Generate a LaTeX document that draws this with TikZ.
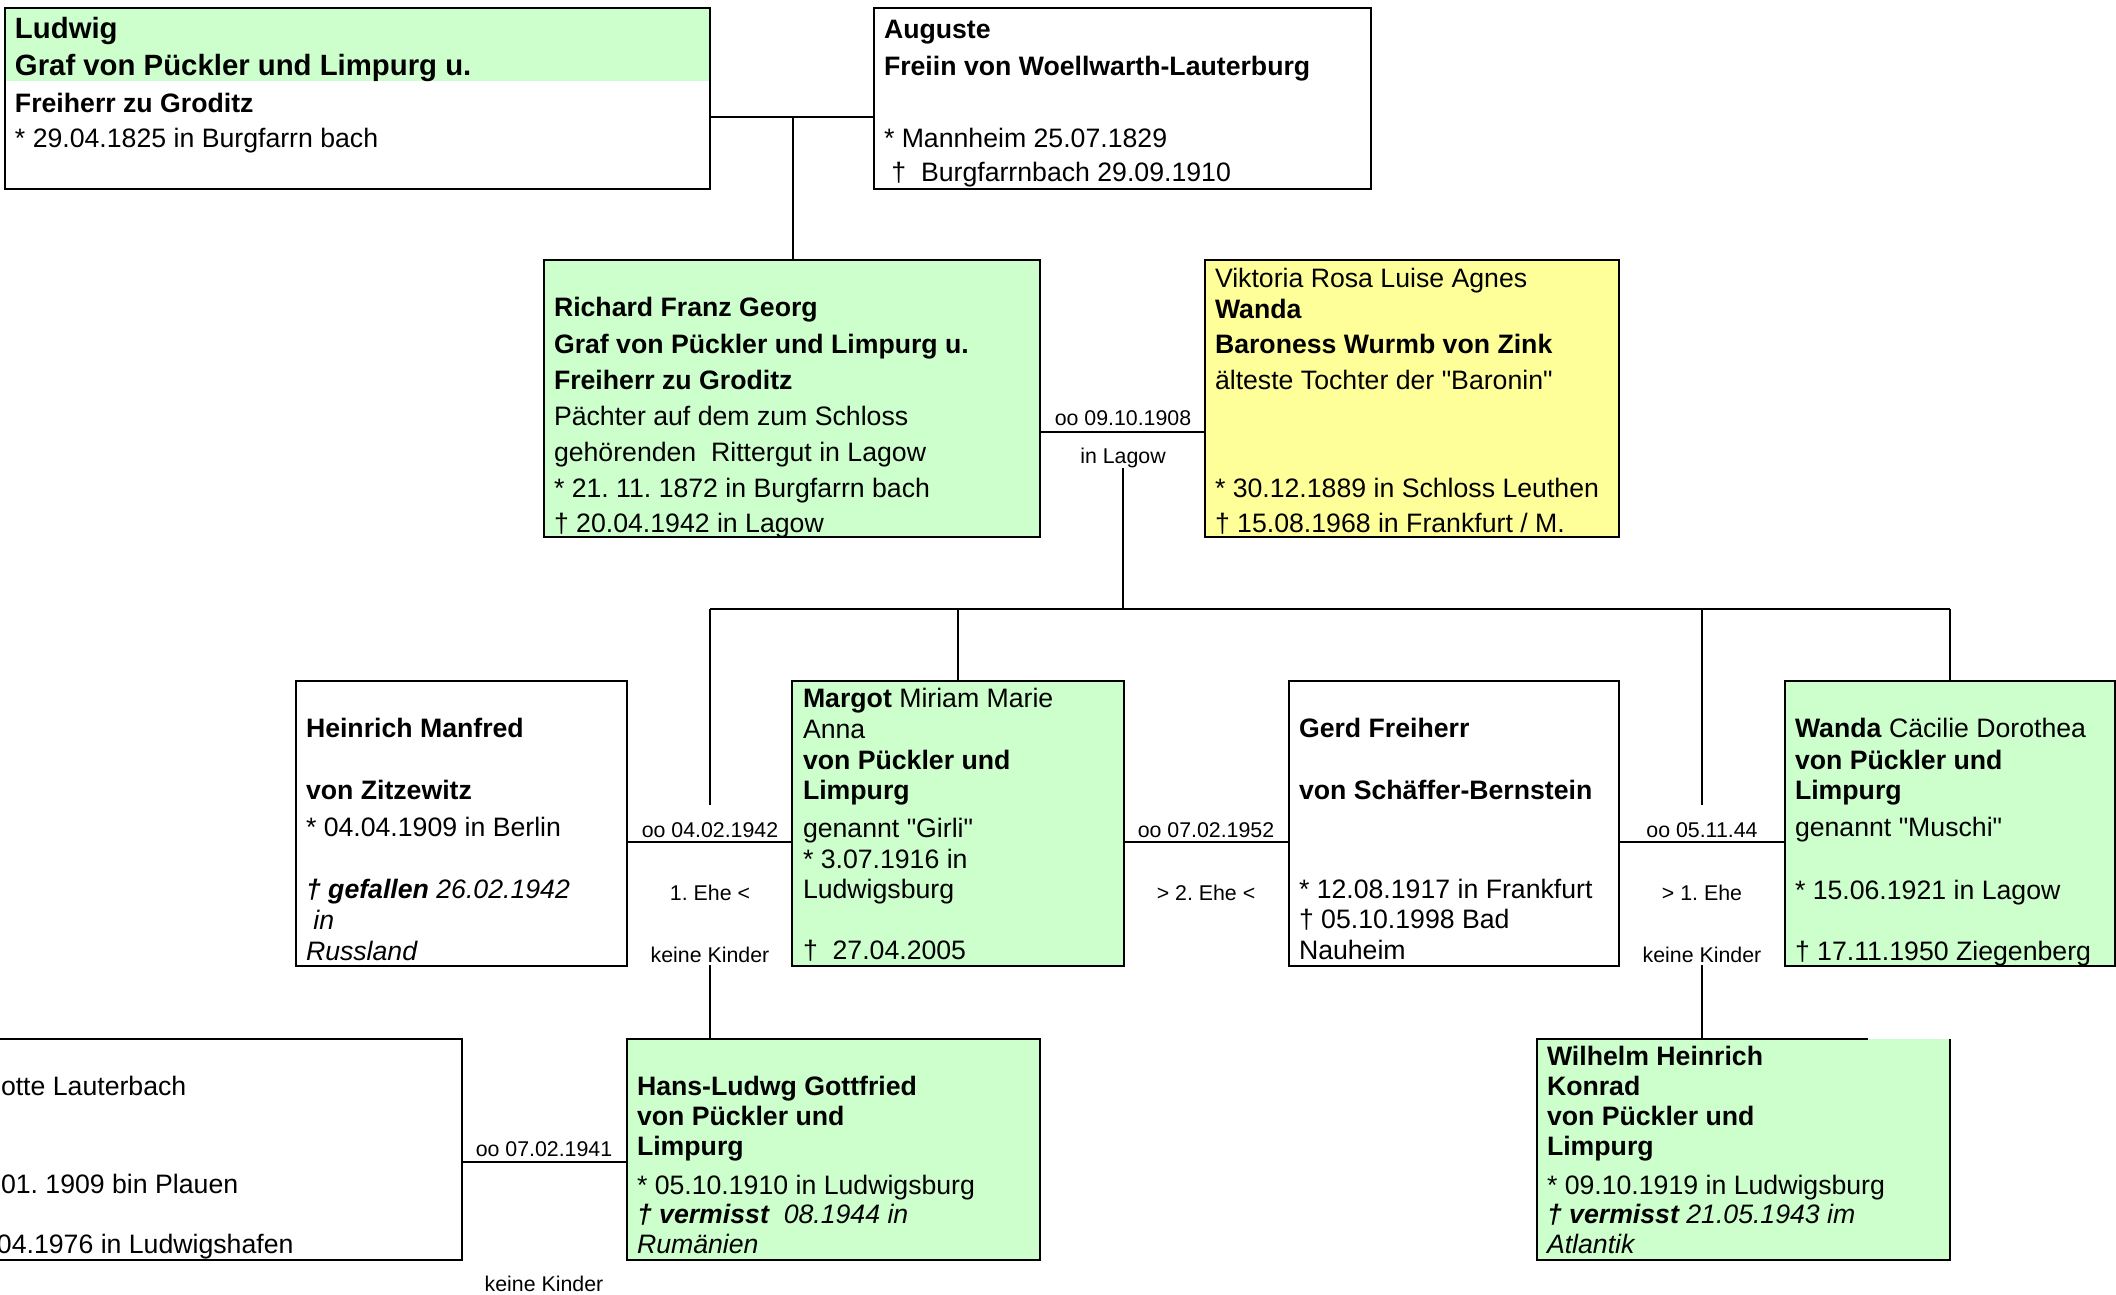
\documentclass[tikz,border=0pt]{standalone}
\usepackage{fontspec}
\setmainfont{Liberation Sans}[Ligatures=TeXOff]
\frenchspacing
\definecolor{pgreen}{HTML}{CCFFCC}
\definecolor{pyellow}{HTML}{FFFF99}
\tikzset{
  box/.style={draw=black, line width=0.75pt, anchor=north west, inner sep=0pt, outer sep=0pt},
  boxline/.style={draw=black, line width=0.75pt},
  tx/.style={anchor=mid west, inner sep=0pt, outer sep=0pt, font=\fontsize{10pt}{12pt}\selectfont\frenchspacing},
  txl/.style={tx, font=\fontsize{11pt}{13pt}\selectfont\frenchspacing},
  lbl/.style={anchor=mid, inner sep=0pt, font=\fontsize{8pt}{9.6pt}\selectfont\frenchspacing},
  con/.style={line width=0.7pt},
}
\newcommand\pbox[7][]{%
  \node[box, #1, fill=#7, minimum width={(#4-#2)*0.375pt}, minimum height={(#5-#3)*0.375pt}] (#6) at (#2,#3) {};}
\newcommand\tline[5][]{\node[tx,#1] (#2) at (#3,{#4+3}) {#5};}
\begin{document}
\begin{tikzpicture}[x=0.375pt, y=-0.375pt]
\path[use as bounding box, clip] (0,0) rectangle (2116,1294);
\fill[white] (0,0) rectangle (2116,1294);

% ---------- boxes ----------
\fill[pgreen] (5,8) rectangle (710,81);
\pbox{5}{8}{710}{189}{ludwig}{none}
\pbox{874}{8}{1371}{189}{auguste}{white}
\pbox{544}{260}{1040}{537}{richard}{pgreen}
\pbox{1205}{260}{1619}{537}{viktoria}{pyellow}
\pbox{296}{681}{627}{966}{heinrich}{white}
\pbox{792}{681}{1124}{966}{margot}{pgreen}
\pbox{1289}{681}{1619}{966}{gerd}{white}
\pbox{1785}{681}{2115}{966}{wanda}{pgreen}
\pbox{-20}{1039}{462}{1260}{lotte}{white}
\pbox{627}{1039}{1040}{1260}{hans}{pgreen}
\node[anchor=north west, inner sep=0pt, outer sep=0pt, fill=pgreen,
  minimum width={413*0.375pt}, minimum height={221*0.375pt}] (wilhelm) at (1537,1039) {};
\coordinate (wtop) at (1868,1039);
\draw[boxline] (wtop) -- (wilhelm.north west) -- (wilhelm.south west) -- (wilhelm.south east) -- (wilhelm.north east);

% ---------- connectors ----------
\coordinate (j0) at (793,117);
\draw[con] (ludwig.east |- j0) -- (auguste.west |- j0);
\draw[con] (j0) -- (richard.north -| j0);

\coordinate (m0) at (1123,432);
\draw[con] (richard.east |- m0) -- (viktoria.west |- m0);
\node[lbl] (m0a) at (1123,418) {oo 09.10.1908};
\node[lbl] (m0b) at (1123,456) {in Lagow};
\coordinate (m0c) at (1123,468);
\coordinate (bar) at (1123,609);
\draw[con] (m0c) -- (bar);

\coordinate (c1) at (710,609);
\coordinate (c1a) at (710,805);
\coordinate (c1b) at (710,965);
\coordinate (c2) at (958,609);
\coordinate (c3) at (1702,609);
\coordinate (c3a) at (1702,805);
\coordinate (c3b) at (1702,965);
\coordinate (c4) at (1950,609);
\draw[con] (c1) -- (c4);
\draw[con] (c1) -- (c1a);
\draw[con] (c1b) -- (c1b |- hans.north);
\draw[con] (c2) -- (c2 |- margot.north);
\draw[con] (c3) -- (c3a);
\draw[con] (c3b) -- (c3b |- wilhelm.north);
\draw[con] (c4) -- (c4 |- wanda.north);

\coordinate (mr) at (0,842);
\draw[con] (heinrich.east |- mr) -- (margot.west |- mr);
\draw[con] (margot.east |- mr) -- (gerd.west |- mr);
\draw[con] (gerd.east |- mr) -- (wanda.west |- mr);
\coordinate (ml) at (0,1162);
\draw[con] (lotte.east |- ml) -- (hans.west |- ml);

\node[lbl] (l1a) at (710,830) {oo 04.02.1942};
\node[lbl] (l1b) at (710,893) {1. Ehe <};
\node[lbl] (l1c) at (710,955) {keine Kinder};
\node[lbl] (l2a) at (1206,830) {oo 07.02.1952};
\node[lbl] (l2b) at (1206,893) {> 2. Ehe <};
\node[lbl] (l3a) at (1702,830) {oo 05.11.44};
\node[lbl] (l3b) at (1702,893) {> 1. Ehe};
\node[lbl] (l3c) at (1702,955) {keine Kinder};
\node[lbl] (l4a) at (544,1149) {oo 07.02.1941};
\node[lbl] (l4b) at (544,1284) {keine Kinder};

% ---------- texts ----------
\tline[txl]{lu1}{15}{28}{\bfseries Ludwig}
\tline[txl]{lu2}{15}{65}{\bfseries Graf von Pückler und Limpurg u.}
\tline{lu3}{15}{102}{\bfseries Freiherr zu Groditz}
\tline{lu4}{15}{137}{* 29.04.1825 in Burgfarrn bach}

\tline{au1}{884}{28}{\bfseries Auguste}
\tline{au2}{884}{65}{\bfseries Freiin von Woellwarth-Lauterburg}
\tline{au3}{884}{137}{* Mannheim 25.07.1829}
\tline{au4}{884}{171}{\ †\ \ Burgfarrnbach 29.09.1910}

\tline{ri1}{554}{306}{\bfseries Richard Franz Georg}
\tline{ri2}{554}{343}{\bfseries Graf von Pückler und Limpurg u.}
\tline{ri3}{554}{379}{\bfseries Freiherr zu Groditz}
\tline{ri4}{554}{415}{Pächter auf dem zum Schloss}
\tline{ri5}{554}{451}{gehörenden \ Rittergut in Lagow}
\tline{ri6}{554}{487}{* 21. 11. 1872 in Burgfarrn bach}
\tline{ri7}{554}{522}{† 20.04.1942 in Lagow}

\tline{vi1}{1215}{277}{Viktoria Rosa Luise Agnes}
\tline{vi2}{1215}{308}{\bfseries Wanda}
\tline{vi3}{1215}{343}{\bfseries Baroness Wurmb von Zink}
\tline{vi4}{1215}{379}{älteste Tochter der "Baronin"}
\tline{vi5}{1215}{487}{* 30.12.1889 in Schloss Leuthen}
\tline{vi6}{1215}{522}{† 15.08.1968 in Frankfurt / M.}

\tline{he1}{306}{727}{\bfseries Heinrich Manfred}
\tline{he2}{306}{789}{\bfseries von Zitzewitz}
\tline{he3}{306}{826}{* 04.04.1909 in Berlin}
\tline{he4}{306}{888}{\itshape\bfseries † gefallen\mdseries\ 26.02.1942}
\tline{he5}{306}{919}{\itshape\ in}
\tline{he6}{306}{950}{\itshape Russland}

\tline{ma1}{803}{697}{\textbf{Margot} Miriam Marie}
\tline{ma2}{803}{728}{Anna}
\tline{ma3}{803}{759}{\bfseries von Pückler und}
\tline{ma4}{803}{789}{\bfseries Limpurg}
\tline{ma5}{803}{827}{genannt "Girli"}
\tline{ma6}{803}{858}{* 3.07.1916 in}
\tline{ma7}{803}{888}{Ludwigsburg}
\tline{ma8}{803}{949}{† \ 27.04.2005}

\tline{ge1}{1299}{727}{\bfseries Gerd Freiherr}
\tline{ge2}{1299}{789}{\bfseries von Schäffer-Bernstein}
\tline{ge3}{1299}{888}{* 12.08.1917 in Frankfurt}
\tline{ge4}{1299}{918}{† 05.10.1998 Bad}
\tline{ge5}{1299}{949}{Nauheim}

\tline{wa1}{1795}{727}{\textbf{Wanda} Cäcilie Dorothea}
\tline{wa2}{1795}{759}{\bfseries von Pückler und}
\tline{wa3}{1795}{789}{\bfseries Limpurg}
\tline{wa4}{1795}{826}{genannt "Muschi"}
\tline{wa5}{1795}{889}{* 15.06.1921 in Lagow}
\tline{wa6}{1795}{950}{† 17.11.1950 Ziegenberg}

\tline{lo1}{1}{1085}{otte Lauterbach}
\tline{lo2}{1}{1183}{01. 1909 bin Plauen}
\tline{lo3}{-3}{1243}{04.1976 in Ludwigshafen}

\tline{ha1}{637}{1085}{\bfseries Hans-Ludwg Gottfried}
\tline{ha2}{637}{1115}{\bfseries von Pückler und}
\tline{ha3}{637}{1145}{\bfseries Limpurg}
\tline{ha4}{637}{1184}{* 05.10.1910 in Ludwigsburg}
\tline{ha5}{637}{1213}{\itshape\bfseries † vermisst\mdseries\ \ 08.1944 in}
\tline{ha6}{637}{1243}{\itshape Rumänien}

\tline{wi1}{1547}{1055}{\bfseries Wilhelm Heinrich}
\tline{wi2}{1547}{1085}{\bfseries Konrad}
\tline{wi3}{1547}{1115}{\bfseries von Pückler und}
\tline{wi4}{1547}{1145}{\bfseries Limpurg}
\tline{wi5}{1547}{1184}{* 09.10.1919 in Ludwigsburg}
\tline{wi6}{1547}{1213}{\itshape\bfseries † vermisst\mdseries\ 21.05.1943 im}
\tline{wi7}{1547}{1243}{\itshape Atlantik}
\end{tikzpicture}
\end{document}
